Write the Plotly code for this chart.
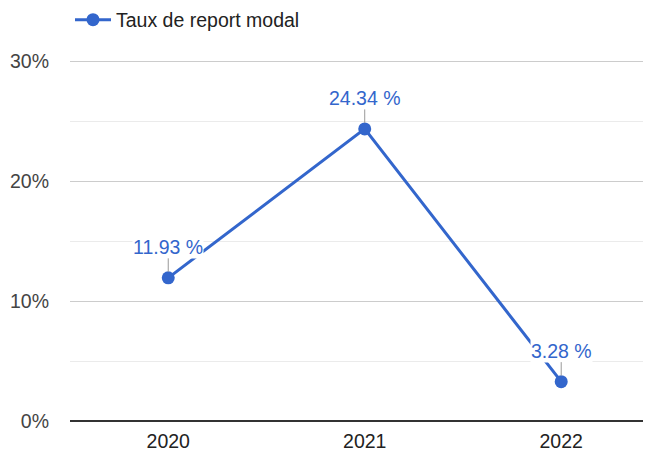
import plotly.graph_objects as go

years = ["2020", "2021", "2022"]
rates = [11.93, 24.34, 3.28]
labels = ["11.93 %", "24.34 %", "3.28 %"]
series_name = "Taux de report modal"
ytick_vals = [0, 10, 20, 30]
ytick_text = ["0%", "10%", "20%", "30%"]

BLUE = "#3366cc"
FONT = "Arial, Liberation Sans, sans-serif"
FS = 19.5

xs = list(range(len(years)))

fig = go.Figure()
fig.add_trace(go.Scatter(
    x=xs, y=rates, mode="lines+markers", name=series_name,
    line=dict(color=BLUE, width=3),
    marker=dict(color=BLUE, size=13),
    cliponaxis=False,
))

for x, y, t in zip(xs, rates, labels):
    fig.add_annotation(
        x=x, y=y, text=t, showarrow=True, arrowhead=0, arrowwidth=1,
        arrowcolor="#999999", ax=0, ay=-31, standoff=6,
        font=dict(family=FONT, size=FS, color=BLUE),
        bgcolor="white", borderpad=0,
    )

fig.update_layout(
    width=643, height=447,
    margin=dict(l=62, r=0, t=51, b=34),
    paper_bgcolor="white", plot_bgcolor="white",
    font=dict(family=FONT, size=FS, color="#444444"),
    showlegend=True,
    legend=dict(x=0, xanchor="left", xref="paper",
                y=1 - 12 / 447, yanchor="middle", yref="container",
                orientation="h", itemwidth=36,
                font=dict(family=FONT, size=FS, color="#222222"),
                bgcolor="rgba(0,0,0,0)"),
    xaxis=dict(
        range=[-0.5, 2.457], tickvals=xs, ticktext=years,
        showgrid=False, zeroline=False, showline=False, ticks="",
        ticklabelstandoff=6,
        tickfont=dict(family=FONT, size=FS, color="#222222"),
        fixedrange=True,
    ),
    yaxis=dict(
        range=[0, 30 * 362 / 360], tickvals=ytick_vals, ticktext=ytick_text,
        showgrid=True, gridcolor="#cccccc", gridwidth=1,
        zeroline=True, zerolinecolor="#333333", zerolinewidth=2,
        showline=False, ticks="", ticklabelstandoff=20,
        tickfont=dict(family=FONT, size=FS, color="#444444"),
        minor=dict(tickvals=[5, 15, 25], showgrid=True, gridcolor="#ebebeb", gridwidth=1),
        fixedrange=True,
    ),
)

fig.write_html("out.html")
